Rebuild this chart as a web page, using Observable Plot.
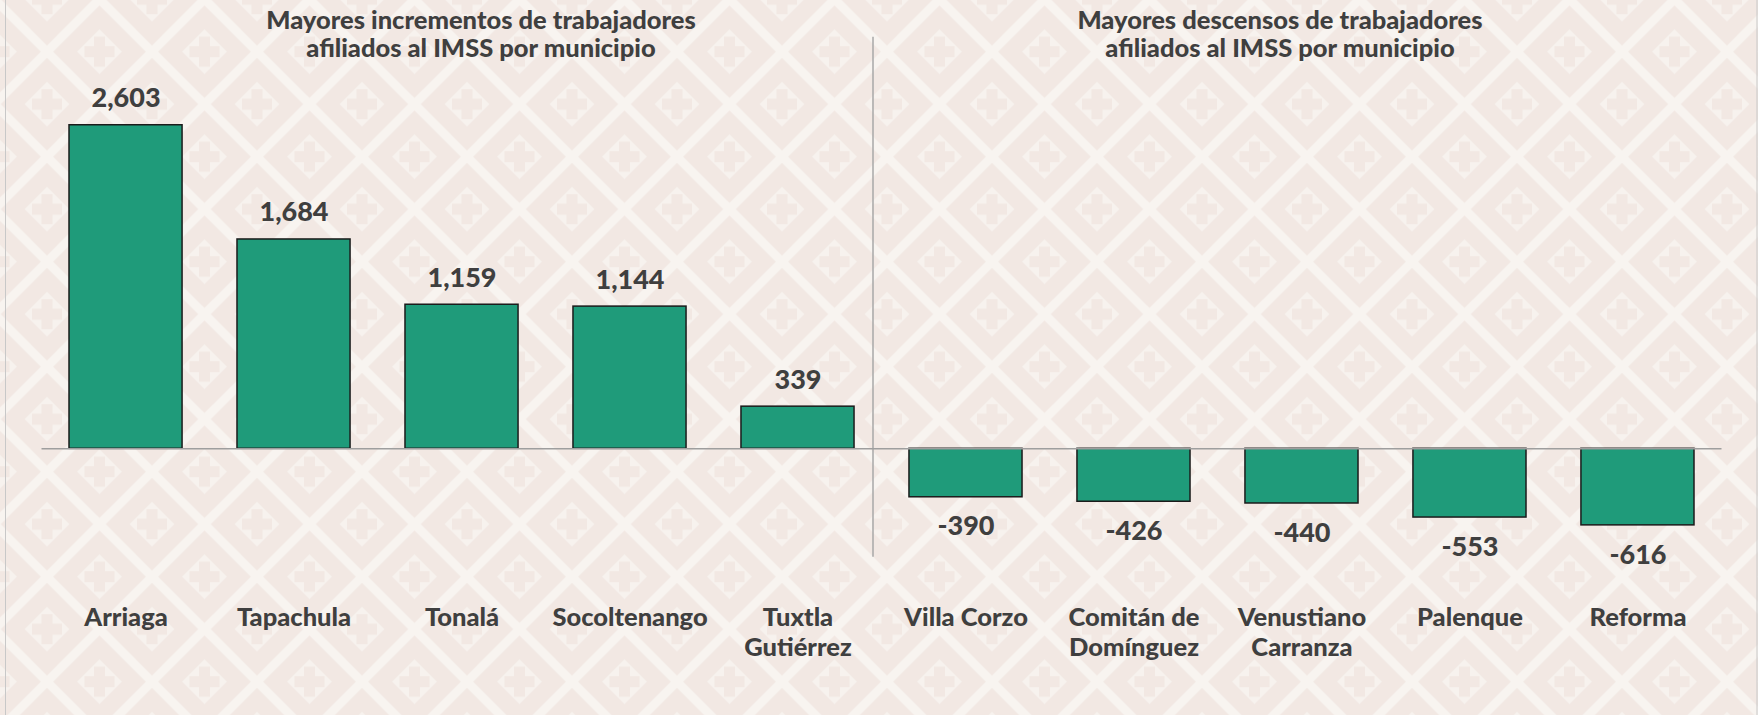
<!DOCTYPE html>
<html><head><meta charset="utf-8">
<script src="https://cdn.jsdelivr.net/npm/d3@7"></script>
<script src="https://cdn.jsdelivr.net/npm/@observablehq/plot@0.6"></script>
<style>
html,body{margin:0;padding:0;width:1758px;height:715px;overflow:hidden;background:#f2e8e3;}
#wrap{position:relative;width:1758px;height:715px;}
#bg{position:absolute;left:0;top:0;}
#chart{position:absolute;left:0;top:0;}
.title{position:absolute;font-family:Lato,sans-serif;font-weight:900;font-size:25.5px;line-height:28px;color:#3f3f3f;text-align:center;width:600px;white-space:nowrap;}
</style></head>
<body><div id="wrap">
<svg id="bg" width="1758" height="715"></svg>
<div id="chart"></div>
<div class="title" style="left:181px;top:5px;">Mayores incrementos de trabajadores<br>afiliados al IMSS por municipio</div>
<div class="title" style="left:980px;top:5px;">Mayores descensos de trabajadores<br>afiliados al IMSS por municipio</div>
</div>
<script>
// ---- data ----
const municipios = ["Arriaga","Tapachula","Tonalá","Socoltenango","Tuxtla Gutiérrez","Villa Corzo","Comitán de Domínguez","Venustiano Carranza","Palenque","Reforma"];
const etiquetas = ["Arriaga","Tapachula","Tonalá","Socoltenango","Tuxtla\nGutiérrez","Villa Corzo","Comitán de\nDomínguez","Venustiano\nCarranza","Palenque","Reforma"];
const valores = [2603,1684,1159,1144,339,-390,-426,-440,-553,-616];

const datos = municipios.map((m,i)=>({municipio:m, valor:valores[i]}));

// ---- background pattern ----
(function(){
  const svg=document.getElementById("bg");
  const T=105, L="#f8f4f0", B="#f2e8e3";
  const h=T/2;
  let s=`<defs><pattern id="p" patternUnits="userSpaceOnUse" x="47" y="-0.8" width="${T}" height="${T}">`;
  s+=`<rect width="${T}" height="${T}" fill="${B}"/>`;
  s+=`<g stroke="${L}" stroke-width="9">`;
  s+=`<line x1="${-30}" y1="${h+30}" x2="${h+30}" y2="${-30}"/>`;
  s+=`<line x1="${h-30}" y1="${T+30}" x2="${T+30}" y2="${h-30}"/>`;
  s+=`<line x1="${h-30}" y1="${-30}" x2="${T+30}" y2="${h+30}"/>`;
  s+=`<line x1="${-30}" y1="${h-30}" x2="${h+30}" y2="${T+30}"/>`;
  s+=`</g>`;
  const centers=[[0,0],[T,0],[0,T],[T,T],[h,h]];
  const r=22.5, a=15, w=5.5;
  for(const [cx,cy] of centers){
    s+=`<path d="M${cx},${cy-r}L${cx+r},${cy}L${cx},${cy+r}L${cx-r},${cy}Z" fill="#f7f2ee"/>`;
    s+=`<rect x="${cx-a}" y="${cy-w}" width="${2*a}" height="${2*w}" fill="${B}"/>`;
    s+=`<rect x="${cx-w}" y="${cy-a}" width="${2*w}" height="${2*a}" fill="${B}"/>`;
  }
  s+=`</pattern></defs><rect width="1758" height="715" fill="url(#p)"/>`;
  s+=`<line x1="5.5" y1="0" x2="5.5" y2="715" stroke="#c8c8c8" stroke-width="1"/>`;
  s+=`<line x1="1757" y1="0" x2="1757" y2="715" stroke="#c8c8c8" stroke-width="1"/>`;
  svg.innerHTML=s;
})();

// ---- chart ----
const fmt = d3.formatLocale({decimal:".", thousands:",", grouping:[3], currency:["$",""], minus:"-"}).format(",");
const chart = Plot.plot({
  width:1758, height:715,
  marginLeft:41.5, marginRight:36.5, marginTop:75.4, marginBottom:142.4,
  style:{background:"transparent", fontFamily:"Lato, sans-serif", color:"#3f3f3f", overflow:"visible"},
  x:{domain:municipios, paddingInner:0.327, paddingOuter:0.1637, round:false, axis:null},
  y:{domain:[-1000,3000], axis:null},
  marks:[
    Plot.ruleX([{municipio:"Villa Corzo"}], {x:"municipio", dx:-93, y1:()=>3310, y2:()=>-873, stroke:"#a8a8a8", strokeWidth:1.5}),
    Plot.barY(datos, {x:"municipio", y:"valor", fill:"#1f9b7a", stroke:"#1b1b1b", strokeWidth:1.5}),
    Plot.ruleY([0], {stroke:"#9e9e9e", strokeWidth:1.5}),
    Plot.text(datos.filter(d=>d.valor>0), {x:"municipio", y:"valor", text:d=>fmt(d.valor), lineAnchor:"bottom", dy:-18, fontSize:27, fontWeight:900, fill:"#3f3f3f"}),
    Plot.text(datos.filter(d=>d.valor<0), {x:"municipio", y:"valor", text:d=>fmt(d.valor), lineAnchor:"top", dy:19, fontSize:27, fontWeight:900, fill:"#3f3f3f"}),
    Plot.axisX({tickSize:0, tickPadding:31.5, fontSize:25.5, fontWeight:900, lineHeight:1.19, label:null, fill:"#3f3f3f", tickFormat:(d)=>etiquetas[municipios.indexOf(d)]})
  ]
});
document.getElementById("chart").appendChild(chart);
</script>
</body></html>
